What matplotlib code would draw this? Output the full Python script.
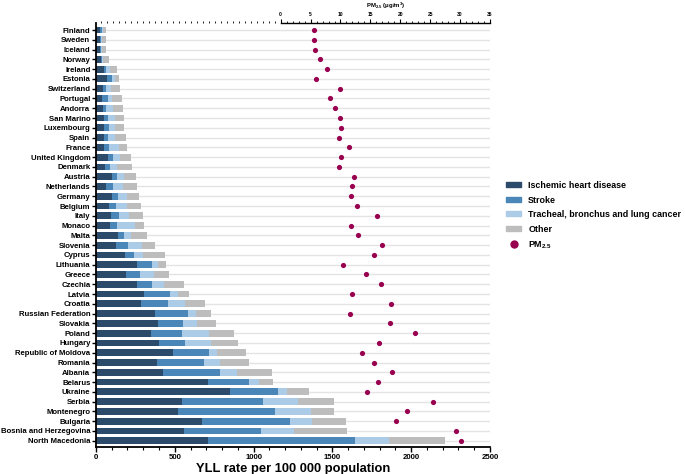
import matplotlib
matplotlib.use('Agg')
import matplotlib.pyplot as plt
from matplotlib.patches import Patch
from matplotlib.lines import Line2D
from matplotlib.ticker import MultipleLocator

plt.rcParams['font.family'] = ['Liberation Sans', 'DejaVu Sans']
plt.rcParams['font.weight'] = 'bold'
plt.rcParams['mathtext.fontset'] = 'custom'
plt.rcParams['mathtext.rm'] = 'Liberation Sans:bold'
plt.rcParams['mathtext.default'] = 'rm'

countries = ['Finland', 'Sweden', 'Iceland', 'Norway', 'Ireland', 'Estonia',
             'Switzerland', 'Portugal', 'Andorra', 'San Marino', 'Luxembourg',
             'Spain', 'France', 'United Kingdom', 'Denmark', 'Austria',
             'Netherlands', 'Germany', 'Belgium', 'Italy', 'Monaco', 'Malta',
             'Slovenia', 'Cyprus', 'Lithuania', 'Greece', 'Czechia', 'Latvia',
             'Croatia', 'Russian Federation', 'Slovakia', 'Poland', 'Hungary',
             'Republic of Moldova', 'Romania', 'Albania', 'Belarus', 'Ukraine',
             'Serbia', 'Montenegro', 'Bulgaria', 'Bosnia and Herzegovina',
             'North Macedonia']

# YLL rate per 100 000 by cause
ihd = [27, 23, 25, 32, 51, 72, 46, 38, 42, 49, 53, 49, 49, 78, 55, 99, 66, 101,
       82, 93, 87, 139, 125, 182, 258, 190, 258, 304, 283, 374, 395, 347, 397,
       486, 385, 423, 714, 852, 549, 518, 672, 556, 710]
stroke = [13, 9, 9, 6, 15, 27, 20, 40, 19, 29, 29, 29, 31, 30, 32, 32, 40, 38,
          43, 51, 44, 41, 76, 59, 95, 89, 95, 165, 171, 213, 156, 196, 167,
          232, 302, 367, 260, 302, 512, 615, 556, 494, 936]
lung = [7, 4, 4, 8, 25, 19, 31, 21, 45, 42, 41, 40, 64, 42, 46, 46, 67, 55, 69,
        63, 116, 40, 91, 57, 38, 89, 78, 51, 110, 45, 87, 173, 167, 47, 103,
        102, 63, 61, 224, 234, 143, 209, 211]
other = [14, 30, 28, 36, 44, 30, 57, 64, 63, 60, 57, 70, 53, 70, 93, 79, 87,
         76, 89, 89, 59, 103, 84, 139, 53, 93, 127, 72, 125, 101, 125, 157,
         173, 186, 178, 222, 87, 139, 228, 146, 218, 334, 355]

# annual mean PM2.5 (ug/m3)
pm25 = [5.5, 5.6, 5.7, 6.6, 7.8, 5.9, 9.9, 8.2, 9.1, 9.9, 10.1, 9.75, 11.4,
        10.1, 9.8, 12.2, 12.0, 11.75, 12.7, 16.1, 11.7, 13.0, 17.0, 15.6, 10.4,
        14.3, 16.8, 12.0, 18.4, 11.6, 18.3, 22.5, 16.4, 13.6, 15.6, 18.6, 16.3,
        14.4, 25.4, 21.2, 19.3, 29.4, 30.2]

c_ihd = '#2c4b6a'
c_stroke = '#4a86b8'
c_lung = '#abcbe6'
c_other = '#bdbdbd'
c_pm = '#98004f'

fig = plt.figure(figsize=(6.85, 4.74), dpi=100)
ax = fig.add_axes([0.1401, 0.0576, 0.5752, 0.8932])

y = list(range(len(countries)))
left = [0] * len(countries)
for vals, col in [(ihd, c_ihd), (stroke, c_stroke), (lung, c_lung), (other, c_other)]:
    ax.barh(y, vals, left=left, height=0.7, color=col, zorder=2)
    left = [a + b for a, b in zip(left, vals)]

ax.set_ylim(42.61, -0.685)
ax.set_xlim(0, 2500)
ax.set_yticks(y)
ax.set_yticklabels(countries, fontsize=5.6, fontweight='bold')
ax.xaxis.set_major_locator(MultipleLocator(500))
ax.xaxis.set_minor_locator(MultipleLocator(100))
ax.tick_params(axis='x', labelsize=5.6, length=3.5, width=1, pad=2)
ax.tick_params(axis='x', which='minor', length=2, width=0.8)
ax.tick_params(axis='y', length=3, width=1, pad=1)
ax.yaxis.grid(True, color='#e4e4e4', lw=1)
ax.set_axisbelow(True)
for s in ['top', 'right']:
    ax.spines[s].set_visible(False)
ax.spines['left'].set_linewidth(1.3)
ax.spines['bottom'].set_linewidth(1.3)
ax.set_xlabel('YLL rate per 100 000 population', fontsize=9.3,
              fontweight='bold', labelpad=1)

# PM2.5 on its own top scale
ax2 = ax.twiny()
ax2.scatter(pm25, y, s=14, color=c_pm, zorder=3, clip_on=False, linewidths=0)
ax2.set_xlim(-30.89, 35)
ax2.set_ylim(42.61, -0.685)
ax2.set_xticks([0, 5, 10, 15, 20, 25, 30, 35])
ax2.xaxis.set_minor_locator(MultipleLocator(1))
ax2.tick_params(axis='x', labelsize=3.6, length=3, width=0.8, pad=1.5)
ax2.tick_params(axis='x', which='minor', length=1.6, width=0.6)
for s in ['left', 'right', 'bottom']:
    ax2.spines[s].set_visible(False)
ax2.spines['top'].set_bounds(0, 35)
ax2.spines['top'].set_linewidth(1)
fig.text(385.4 / 685, 1 - 5.5 / 474, 'PM$_{2.5}$ (μg/m$^3$)', fontsize=4.3,
         fontweight='bold', ha='center', va='center')

handles = [Patch(color=c_ihd), Patch(color=c_stroke), Patch(color=c_lung),
           Patch(color=c_other),
           Line2D([], [], ls='none', marker='o', ms=5, color=c_pm)]
labels = ['Ischemic heart disease', 'Stroke', 'Tracheal, bronchus and lung cancer',
          'Other', 'PM$_{2.5}$']
fig.legend(handles, labels, loc='upper left',
           bbox_to_anchor=(506 / 685, 1 - 181 / 474), frameon=False,
           prop={'size': 6.4, 'weight': 'bold'}, borderpad=0, borderaxespad=0,
           handlelength=1.7, handleheight=0.5, handletextpad=0.8,
           labelspacing=0.62)

fig.savefig('out.png', dpi=100)
